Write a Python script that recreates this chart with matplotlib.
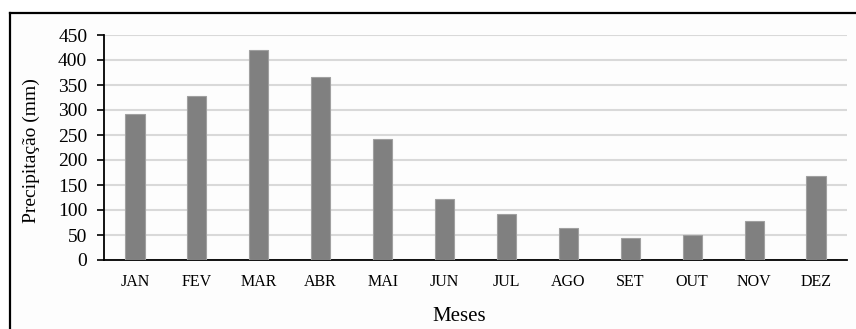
import matplotlib
matplotlib.use('Agg')
import matplotlib.pyplot as plt
from matplotlib.lines import Line2D
from matplotlib.patches import Rectangle

plt.rcParams['font.family'] = ['Liberation Serif', 'DejaVu Serif']

# monthly rainfall (mm)
meses = ['JAN', 'FEV', 'MAR', 'ABR', 'MAI', 'JUN',
         'JUL', 'AGO', 'SET', 'OUT', 'NOV', 'DEZ']
precip = [292, 328, 420, 367, 243, 122, 92, 64, 44, 51, 79, 169]
yticks = [0, 50, 100, 150, 200, 250, 300, 350, 400, 450]

fig = plt.figure(figsize=(8.56, 3.29), dpi=100, facecolor='white')

# off-white panel with a frame only on top and left
fig.add_artist(Rectangle((10 / 856, 0), 1, 1 - 13 / 329,
                         transform=fig.transFigure,
                         facecolor='#fdfdfd', edgecolor='none', zorder=-10))
fig.add_artist(Line2D([10 / 856, 1], [1 - 13 / 329, 1 - 13 / 329],
                      transform=fig.transFigure, color='black', lw=1.6, zorder=10))
fig.add_artist(Line2D([10 / 856, 10 / 856], [0, 1 - 13 / 329],
                      transform=fig.transFigure, color='black', lw=1.6, zorder=10))

ax = fig.add_axes([104 / 856, 1 - 260 / 329, 743 / 856, 225 / 329])
ax.set_facecolor('none')

x = range(len(meses))
ax.bar(x, precip, width=0.31, color='#808080', edgecolor='#a0a0a0',
       linewidth=0.8, zorder=3)

ax.set_xlim(-0.5, len(meses) - 0.5)
ax.set_ylim(0, 450)
ax.set_yticks(yticks)
ax.set_xticks(list(x))
ax.set_xticklabels(meses, fontsize=11.5)
ax.tick_params(axis='y', labelsize=14, length=5, width=1.2, pad=7)
ax.tick_params(axis='x', length=0, pad=10)

ax.yaxis.grid(True, color='#d9d9d9', lw=1.5, zorder=0)
ax.set_axisbelow(True)

for s in ['top', 'right']:
    ax.spines[s].set_visible(False)
ax.spines['left'].set_linewidth(1.3)
ax.spines['bottom'].set_linewidth(1.3)

ax.set_ylabel('Precipitação (mm)', fontsize=14)
ax.set_xlabel('Meses', fontsize=15)
ax.yaxis.set_label_coords(-0.098, 0.485)
ax.xaxis.set_label_coords(0.478, -0.253)
ax.xaxis.label.set_va('center')
ax.yaxis.label.set_va('center')

fig.savefig('out.png', dpi=100)
